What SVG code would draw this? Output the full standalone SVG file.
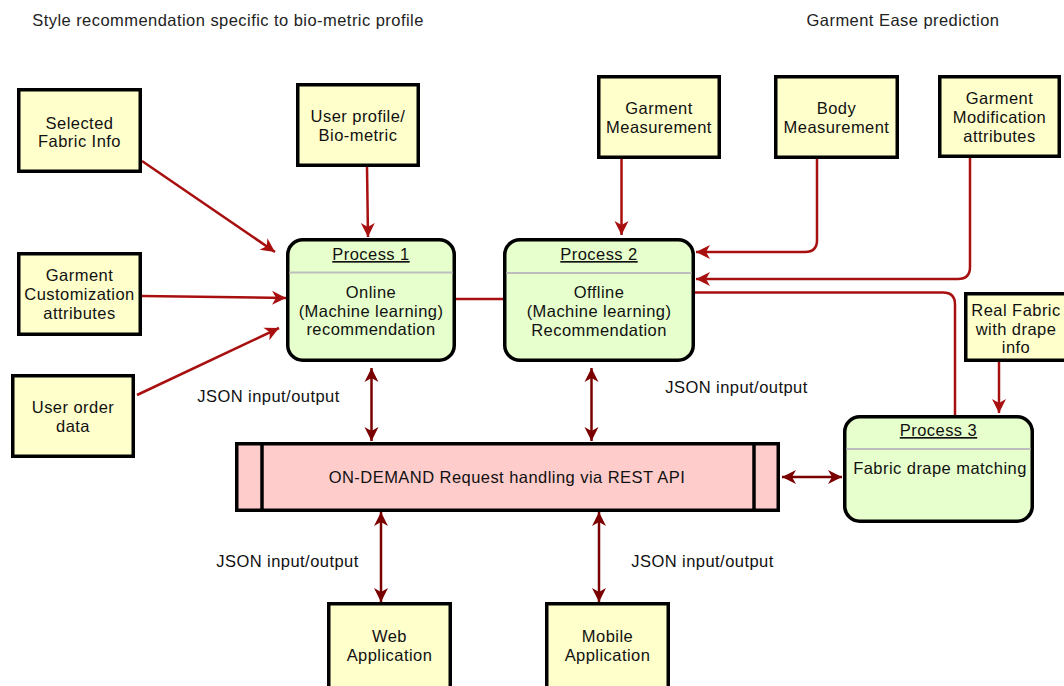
<svg xmlns="http://www.w3.org/2000/svg" width="1064" height="686" viewBox="0 0 1064 686">
<style>
text{font-family:"Liberation Sans",Arial,sans-serif;font-size:16.5px;letter-spacing:0.45px;fill:#111;text-anchor:middle}
.title{fill:#222}
.ent{fill:#FFFFCC;stroke:#000;stroke-width:3.5}
.proc{fill:#E6FFCC;stroke:#000;stroke-width:3.5}
.div{stroke:#BDBDBD;stroke-width:2}
.rest{fill:#FFCCCC;stroke:#000;stroke-width:3.5}
.u{text-decoration:underline}
.in{fill:none;stroke:#A80F0F;stroke-width:2.5}
.bi{fill:none;stroke:#7A0000;stroke-width:2.5}
</style>
<defs>
<marker id="ar" markerUnits="userSpaceOnUse" markerWidth="16" markerHeight="16" refX="14" refY="8" orient="auto" viewBox="0 0 16 16">
<path d="M0,1 L14,8 L0,15 L4,8 Z" fill="#A80F0F"/>
</marker>
<marker id="ab" markerUnits="userSpaceOnUse" markerWidth="16" markerHeight="16" refX="14" refY="8" orient="auto-start-reverse" viewBox="0 0 16 16">
<path d="M0,1 L14,8 L0,15 L4,8 Z" fill="#7A0000"/>
</marker>
</defs>

<text class="title" x="228" y="26">Style recommendation specific to bio-metric profile</text>
<text class="title" x="903" y="26">Garment Ease prediction</text>

<g id="connectors">
<path class="in" d="M142,161 L275,252" marker-end="url(#ar)"/>
<path class="in" d="M367,167 L368,237" marker-end="url(#ar)"/>
<path class="in" d="M142,296 L286,298" marker-end="url(#ar)"/>
<path class="in" d="M137,395 L279,328" marker-end="url(#ar)"/>
<path class="in" d="M621.5,159 L621.5,235" marker-end="url(#ar)"/>
<path class="in" d="M817,159 V240 Q817,252 805,252 H696" marker-end="url(#ar)"/>
<path class="in" d="M970,158 V267 Q970,279 958,279 H696" marker-end="url(#ar)"/>
<path class="in" d="M695,292.5 H943 Q955,292.5 955,304.5 V415"/>
<path class="in" d="M999,362 L999,413" marker-end="url(#ar)"/>
<path class="in" d="M456,299 H503"/>
<path class="bi" d="M371.5,368 V441" marker-start="url(#ab)" marker-end="url(#ab)"/>
<path class="bi" d="M591.5,368 V441" marker-start="url(#ab)" marker-end="url(#ab)"/>
<path class="bi" d="M381,512 V602" marker-start="url(#ab)" marker-end="url(#ab)"/>
<path class="bi" d="M599,512 V602" marker-start="url(#ab)" marker-end="url(#ab)"/>
<path class="bi" d="M782,477 H842" marker-start="url(#ab)" marker-end="url(#ab)"/>
</g>

<g id="labels">
<text x="268.5" y="402">JSON input/output</text>
<text x="736.5" y="393">JSON input/output</text>
<text x="287.5" y="567">JSON input/output</text>
<text x="702.5" y="567">JSON input/output</text>
</g>

<g id="selected-fabric">
<rect class="ent" x="18.75" y="89.75" width="121.5" height="81.5"/>
<text x="79.5" y="128.5">Selected</text>
<text x="79.5" y="147">Fabric Info</text>
</g>
<g id="user-profile">
<rect class="ent" x="297.75" y="84.75" width="120.5" height="80.5"/>
<text x="358" y="122">User profile/</text>
<text x="358" y="141">Bio-metric</text>
</g>
<g id="garment-customization">
<rect class="ent" x="18.75" y="253.75" width="121.5" height="80.5"/>
<text x="79.5" y="281">Garment</text>
<text x="79.5" y="300">Customization</text>
<text x="79.5" y="319">attributes</text>
</g>
<g id="user-order">
<rect class="ent" x="12.75" y="375.75" width="120.5" height="80.5"/>
<text x="73" y="412.5">User order</text>
<text x="73" y="431.5">data</text>
</g>
<g id="garment-measurement">
<rect class="ent" x="598.75" y="76.75" width="120.5" height="80.5"/>
<text x="659" y="113.5">Garment</text>
<text x="659" y="132.5">Measurement</text>
</g>
<g id="body-measurement">
<rect class="ent" x="775.75" y="76.75" width="121.5" height="80.5"/>
<text x="836.5" y="113.5">Body</text>
<text x="836.5" y="132.5">Measurement</text>
</g>
<g id="garment-modification">
<rect class="ent" x="939.75" y="76.75" width="119.5" height="79.5"/>
<text x="999.5" y="104">Garment</text>
<text x="999.5" y="123">Modification</text>
<text x="999.5" y="141.5">attributes</text>
</g>
<g id="real-fabric">
<rect class="ent" x="965.75" y="293.75" width="104" height="66.5"/>
<text x="1016" y="316">Real Fabric</text>
<text x="1016" y="334.5">with drape</text>
<text x="1016" y="353">info</text>
</g>

<g id="process-1">
<rect class="proc" x="287.75" y="239.75" width="166.5" height="120.5" rx="15" ry="15"/>
<line class="div" x1="289.5" y1="272.5" x2="452.5" y2="272.5"/>
<text class="u" x="371" y="260">Process 1</text>
<text x="371" y="297.5">Online</text>
<text x="371" y="316.5">(Machine learning)</text>
<text x="371" y="335">recommendation</text>
</g>
<g id="process-2">
<rect class="proc" x="504.75" y="239.75" width="188.5" height="120.5" rx="15" ry="15"/>
<line class="div" x1="506.5" y1="273" x2="691.5" y2="273"/>
<text class="u" x="599" y="260">Process 2</text>
<text x="599" y="298">Offline</text>
<text x="599" y="316.5">(Machine learning)</text>
<text x="599" y="335.5">Recommendation</text>
</g>
<g id="process-3">
<rect class="proc" x="844.75" y="416.75" width="187.5" height="104.5" rx="15" ry="15"/>
<line class="div" x1="846.5" y1="449" x2="1030.5" y2="449"/>
<text class="u" x="938.5" y="436">Process 3</text>
<text x="940" y="474">Fabric drape matching</text>
</g>

<g id="rest-api">
<rect class="rest" x="236.75" y="443.75" width="541.5" height="66.5"/>
<line x1="262" y1="443.75" x2="262" y2="510.25" stroke="#000" stroke-width="3.5"/>
<line x1="754" y1="443.75" x2="754" y2="510.25" stroke="#000" stroke-width="3.5"/>
<text x="507" y="482.5">ON-DEMAND Request handling via REST API</text>
</g>

<g id="web-app">
<rect class="ent" x="328.75" y="603.75" width="121.5" height="86"/>
<text x="389.5" y="642">Web</text>
<text x="389.5" y="661">Application</text>
</g>
<g id="mobile-app">
<rect class="ent" x="546.75" y="603.75" width="121.5" height="86"/>
<text x="607.5" y="642">Mobile</text>
<text x="607.5" y="661">Application</text>
</g>
</svg>
